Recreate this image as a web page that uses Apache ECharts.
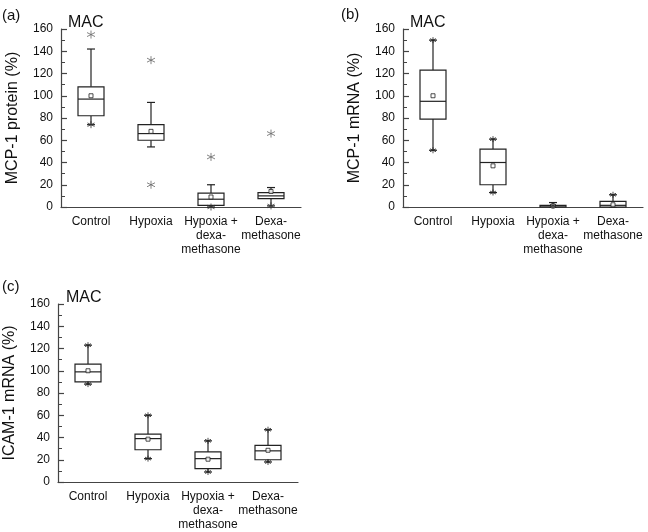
<!DOCTYPE html>
<html>
<head>
<meta charset="utf-8">
<script src="https://cdn.jsdelivr.net/npm/echarts@6/dist/echarts.min.js"></script>
<style>
  html, body { margin: 0; padding: 0; background: #fff; }
  #chart { width: 648px; height: 532px; }
</style>
</head>
<body>
<div id="chart"></div>
<script>
const categories = ['Control', 'Hypoxia', 'Hypoxia +\ndexa-\nmethasone', 'Dexa-\nmethasone'];
const yTicks = [0, 20, 40, 60, 80, 100, 120, 140, 160];

// [low, q1, median, q3, high]
const boxA = [[74, 82, 97, 108, 142], [54, 60, 66, 74, 94], [0, 1.5, 7, 12.5, 20], [1, 7.5, 10, 13, 17.5]];
const meanA = [100, 68, 9, 14];
const outA = [[0, 155], [1, 132], [1, 20], [2, 45], [3, 66]];
const endA = [[0, 74], [2, 0], [3, 1]];

const boxB = [[51, 79, 95, 123, 150], [13, 20, 40, 52, 61], [0, 0, 1, 1.5, 4], [0, 0, 1.5, 5, 11]];
const meanB = [100, 37, 1, 2];
const endB = [[0, 150], [0, 51], [1, 61], [1, 13], [2, 1], [3, 11]];

const boxC = [[88, 90, 99, 106, 123], [21, 29, 39, 43, 60], [9, 12, 21, 27, 37], [18, 20, 28, 33, 47]];
const meanC = [100, 38.5, 20.5, 28.5];
const endC = [[0, 123], [0, 88], [1, 60], [1, 21], [2, 37], [2, 9], [3, 47], [3, 18]];

const FONT = 'Liberation Sans, Arial, Helvetica, sans-serif';
const INK = '#222';
const STAR = 'path://M0,-10 L0,10 M-8.66,-5 L8.66,5 M-8.66,5 L8.66,-5';

const grids = [
  { left: 61, top: 29, width: 240, height: 178 },
  { left: 403, top: 29, width: 240, height: 178 },
  { left: 58, top: 304, width: 240, height: 178 }
];
const yNames = ['MCP-1 protein (%)', 'MCP-1 mRNA (%)', 'ICAM-1 mRNA (%)'];

function xAxis(i) {
  return {
    type: 'category', gridIndex: i, data: categories,
    axisLine: { lineStyle: { color: '#444', width: 1.2 } },
    axisTick: { inside: true, alignWithLabel: true, length: 6, lineStyle: { color: '#444', width: 1.2 } },
    axisLabel: { color: '#111', fontFamily: FONT, fontSize: 12, lineHeight: 14, margin: 8, interval: 0 }
  };
}
function yAxis(i) {
  return {
    type: 'value', gridIndex: i, min: 0, max: 160, interval: 20,
    name: yNames[i], nameLocation: 'middle', nameGap: 40, nameRotate: 90,
    nameTextStyle: { color: '#111', fontFamily: FONT, fontSize: 16 },
    axisLine: { show: true, lineStyle: { color: '#444', width: 1.2 } },
    axisTick: { show: true, inside: true, length: 6, lineStyle: { color: '#444', width: 1.2 } },
    minorTick: { show: true, splitNumber: 2, length: 4, lineStyle: { color: '#444', width: 1 } },
    splitLine: { show: false },
    axisLabel: { color: '#111', fontFamily: FONT, fontSize: 12, margin: 8,
      formatter: v => yTicks.includes(v) ? String(v) : '' }
  };
}

function renderBox(params, api) {
  const idx = api.value(0);
  const lo = api.coord([idx, api.value(1)]);
  const q1 = api.coord([idx, api.value(2)]);
  const md = api.coord([idx, api.value(3)]);
  const q3 = api.coord([idx, api.value(4)]);
  const hi = api.coord([idx, api.value(5)]);
  const x = lo[0], hw = 13, cap = 4;
  const st = { stroke: INK, lineWidth: 1.2, fill: 'none' };
  return {
    type: 'group',
    children: [
      { type: 'line', shape: { x1: x, y1: hi[1], x2: x, y2: q3[1] }, style: st },
      { type: 'line', shape: { x1: x, y1: q1[1], x2: x, y2: lo[1] }, style: st },
      { type: 'line', shape: { x1: x - cap, y1: hi[1], x2: x + cap, y2: hi[1] }, style: st },
      { type: 'line', shape: { x1: x - cap, y1: lo[1], x2: x + cap, y2: lo[1] }, style: st },
      { type: 'rect', shape: { x: x - hw, y: q3[1], width: 2 * hw, height: Math.max(q1[1] - q3[1], 1) },
        style: { stroke: INK, lineWidth: 1.2, fill: '#fff' } },
      { type: 'line', shape: { x1: x - hw, y1: md[1], x2: x + hw, y2: md[1] }, style: st }
    ]
  };
}

function boxSeries(i, box) {
  return {
    type: 'custom', xAxisIndex: i, yAxisIndex: i, renderItem: renderBox, z: 2,
    data: box.map((b, k) => [k].concat(b))
  };
}
function meanSeries(i, means) {
  return {
    type: 'scatter', xAxisIndex: i, yAxisIndex: i, symbol: 'rect', symbolSize: 4, z: 5,
    itemStyle: { color: '#fff', borderColor: INK, borderWidth: 1 },
    data: means.map((m, k) => [k, m])
  };
}
function starSeries(i, pts, size, color) {
  return {
    type: 'scatter', xAxisIndex: i, yAxisIndex: i, symbol: STAR, symbolSize: size, z: 6,
    itemStyle: { color: 'none', borderColor: color, borderWidth: 1 },
    data: pts
  };
}

const titleStyle = { color: '#111', fontFamily: FONT, fontWeight: 'normal' };
function label(text, left, top, size) {
  return { text: text, left: left, top: top, padding: 0,
    textStyle: Object.assign({ fontSize: size }, titleStyle) };
}
const option = {
  animation: false,
  backgroundColor: '#fff',
  title: [
    label('(a)', 2, 8, 15), label('MAC', 68, 15, 16),
    label('(b)', 341, 7, 15), label('MAC', 410, 15, 16),
    label('(c)', 2, 279, 15), label('MAC', 66, 290, 16)
  ],
  grid: grids,
  xAxis: [xAxis(0), xAxis(1), xAxis(2)],
  yAxis: [yAxis(0), yAxis(1), yAxis(2)],
  series: [
    boxSeries(0, boxA), meanSeries(0, meanA),
    starSeries(0, outA, 8, '#666'), starSeries(0, endA, 7, '#333'),
    boxSeries(1, boxB), meanSeries(1, meanB), starSeries(1, endB, 6, '#222'),
    boxSeries(2, boxC), meanSeries(2, meanC), starSeries(2, endC, 6, '#222')
  ]
};

const chart = echarts.init(document.getElementById('chart'), null, { renderer: 'canvas' });
chart.setOption(option);
</script>
</body>
</html>
